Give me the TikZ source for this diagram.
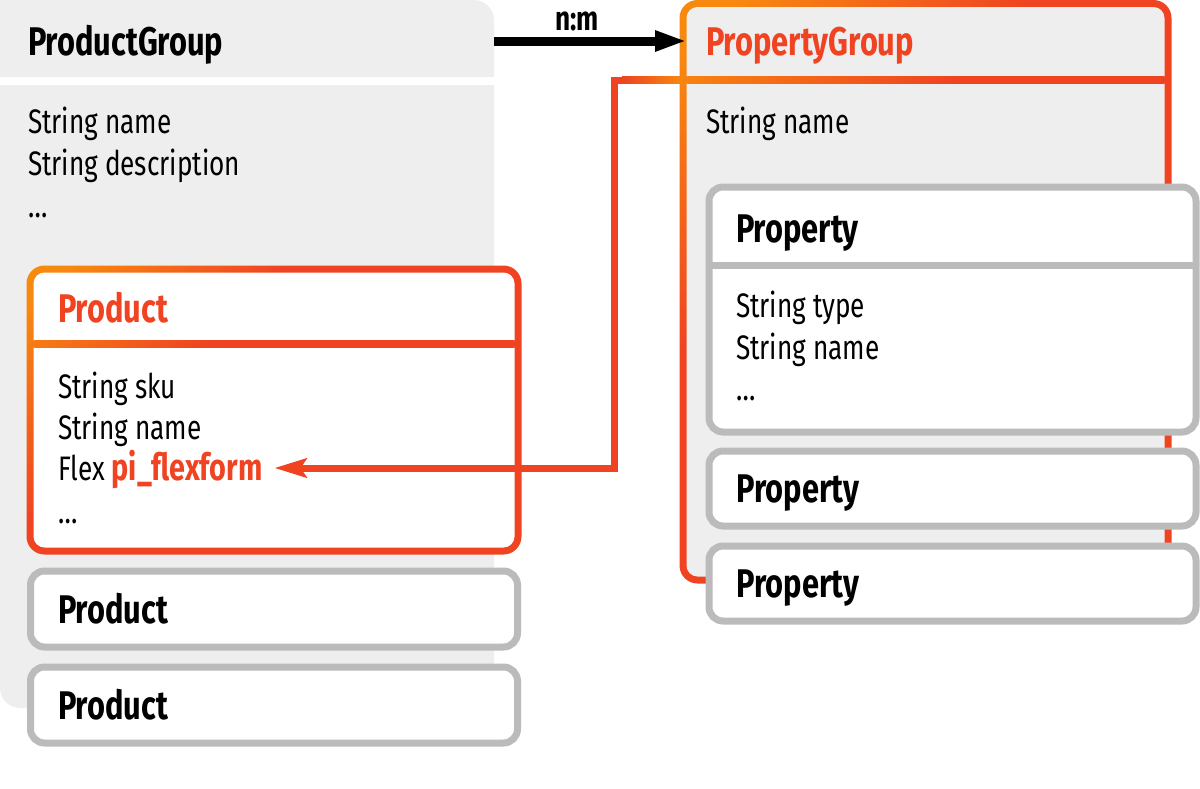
\documentclass[tikz,border=0pt]{standalone}
\usepackage{fontspec}
\setmainfont{Fira Sans}[FakeStretch=0.77]
\usetikzlibrary{arrows.meta}
\definecolor{pggray}{HTML}{EEEEEE}
\definecolor{boxgray}{HTML}{BBBBBB}
\definecolor{flexorange}{HTML}{F8890F}
\definecolor{flexred}{HTML}{EF4322}
\pgfdeclarehorizontalshading{flexgrad}{100bp}{color(0bp)=(flexorange); color(18bp)=(flexorange); color(38bp)=(flexred); color(100bp)=(flexred)}

\tikzset{
  attrtext/.style={anchor=base west, inner sep=0pt, outer sep=0pt, text height=12pt, text depth=0pt, font=\fontsize{17}{20}\selectfont},
  boxtitle/.style={attrtext, text height=14pt, font=\fontsize{20}{24}\selectfont\bfseries},
  itembox/.style={draw=boxgray, line width=3.5pt, fill=white, rounded corners=7pt, anchor=north west, inner sep=0pt, outer sep=0pt,
    minimum width=243.5pt, text width=216pt, align=left, text height=14pt, text depth=0pt, font=\fontsize{20}{24}\selectfont\bfseries},
  flexshade/.style={shading=flexgrad, shading angle=-45},
  flexline/.style={draw=flexred, line width=3.5pt, -{Stealth[length=16pt, width=9.5pt, inset=3pt]}},
  nmarrow/.style={draw=black, line width=4.5pt, -{Triangle[length=16pt, width=9.5pt]}},
}

\begin{document}
\begin{tikzpicture}[x=0.5pt, y=-0.5pt]
    \useasboundingbox (0,0) rectangle (1200,788);

    % ProductGroup background with white gap below its header
    \node[fill=pggray, rounded corners=10pt, minimum width=247pt, minimum height=354pt, anchor=north west, inner sep=0pt, outer sep=0pt] (prodgroup) at (0,0) {};
    \fill[pggray] (0,0) rectangle (40,40); % square top left corner
    \fill[white] (0,77) rectangle (494,85);
    \node[boxtitle] (pgtitle) at (28,55) {ProductGroup};
    \foreach \y/\txt [count=\i] in {133/String name, 175/String description, 217/…} {
        \node[attrtext] (pgattr\i) at (28,\y) {\txt};
    }

    % Selected Product, gradient border
    \shade[flexshade, rounded corners=9pt] (26.5,265.5) rectangle (521.5,554.5);
    \fill[white, rounded corners=5.5pt] (33.5,272.5) rectangle (514.5,547.5);
    \shade[flexshade] (26.5,265.5) (521.5,554.5) (33.5,340.5) rectangle (514.5,347.5); % header line, same shading box
    \node[boxtitle, text=flexred] (prodtitle) at (58,322) {Product};
    \foreach \y/\txt [count=\i] in {398/String sku, 439/String name} {
        \node[attrtext] (prodattr\i) at (58,\y) {\txt};
    }
    \node[attrtext] (flexattr) at (58,480) {Flex \textcolor{flexred}{\fontsize{18.7}{20}\selectfont\bfseries pi\_flexform}};
    \node[attrtext] (proddots) at (58,523) {…};

    % the other products
    \foreach \y/\name in {571/prodb, 667/prodc} {
        \node[itembox, minimum height=38pt] (\name) at (30.5,\y) {Product};
    }

    % PropertyGroup, gradient border on gray
    \node[minimum width=242.5pt, minimum height=288.25pt, anchor=north west, inner sep=0pt, outer sep=0pt] (propgroup) at (683,3.5) {};
    \shade[flexshade, rounded corners=9pt] (679.5,0) rectangle (1171.5,583.5);
    \fill[pggray, rounded corners=5.5pt] (686.5,7) rectangle (1164.5,576.5);
    \shade[flexshade] (679.5,0) (1171.5,583.5) (686.5,76.5) rectangle (1164.5,83.5);
    \coordinate (pgsep) at (683,80);
    \node[boxtitle, text=flexred] (propgtitle) at (706,55) {PropertyGroup};
    \node[attrtext] (propgattr) at (706,133) {String name};

    % Flex field points at the PropertyGroup
    \draw[flexline] (pgsep) -- ++(-69,0) |- ([xshift=6pt]flexattr.east);
    \shade[left color=flexred, right color=flexorange] (622,76.5) rectangle (683,83.5); % blend into the border

    % Properties
    \node[itembox, minimum height=122.5pt] (prop1) at (709,187) {};
    \draw[boxgray, line width=3.5pt] (prop1.west |- 0,265) -- (prop1.east |- 0,265);
    \node[boxtitle] (prop1title) at (736,242) {Property};
    \foreach \y/\txt [count=\i] in {317/String type, 359/String name, 400/…} {
        \node[attrtext] (propattr\i) at (736,\y) {\txt};
    }
    \foreach \y/\name in {451/prop2, 546/prop3} {
        \node[itembox, minimum height=37.5pt] (\name) at (709,\y) {Property};
    }

    % n:m relation
    \draw[nmarrow] (prodgroup.east |- pgtitle) -- ([xshift=2pt]propgroup.west |- pgtitle);
    \node[anchor=base, inner sep=0pt, font=\fontsize{17}{20}\selectfont\bfseries] (nm) at (577,30) {n:m};
\end{tikzpicture}
\end{document}
